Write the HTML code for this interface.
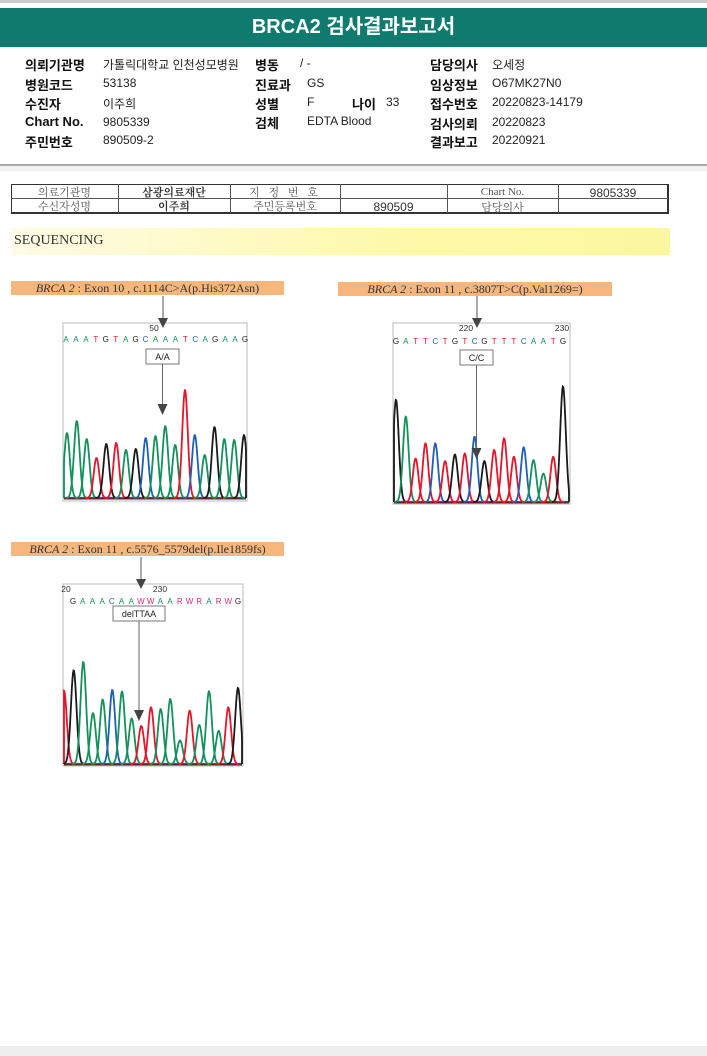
<!DOCTYPE html>
<html><head><meta charset="utf-8">
<style>
body{margin:0;width:707px;height:1056px;position:relative;background:#fff;overflow:hidden;font-family:"Liberation Sans","Noto Sans CJK KR",sans-serif;}
.a{position:absolute;white-space:nowrap;}
.lb{font-weight:bold;font-size:13px;color:#111;}
.v{font-size:12px;color:#222;}
.tc{position:absolute;font-family:"Liberation Serif","Noto Serif CJK SC",serif;font-size:11px;color:#555;text-align:center;}
.tag{position:absolute;background:#f6b67c;font-family:"Liberation Serif",serif;font-size:12px;color:#333;text-align:center;line-height:14px;}
</style></head><body>
<div class="a" style="left:0;top:0;width:707px;height:3px;background:#ccc"></div>
<div class="a" style="left:0;top:8px;width:707px;height:39px;background:#0f7b6e;color:#fff;font-weight:bold;font-size:20px;text-align:center;line-height:39px">BRCA2 검사결과보고서</div>

<div class="a lb" style="left:25px;top:55px">의뢰기관명</div>
<div class="a v" style="left:103px;top:56px">가톨릭대학교 인천성모병원</div>
<div class="a lb" style="left:255px;top:55px">병동</div>
<div class="a v" style="left:300px;top:56px">/ -</div>
<div class="a lb" style="left:430px;top:55px">담당의사</div>
<div class="a v" style="left:492px;top:56px">오세정</div>

<div class="a lb" style="left:25px;top:75px">병원코드</div>
<div class="a v" style="left:103px;top:76px">53138</div>
<div class="a lb" style="left:255px;top:75px">진료과</div>
<div class="a v" style="left:307px;top:76px">GS</div>
<div class="a lb" style="left:430px;top:75px">임상정보</div>
<div class="a v" style="left:492px;top:76px">O67MK27N0</div>

<div class="a lb" style="left:25px;top:94px">수진자</div>
<div class="a v" style="left:103px;top:95px">이주희</div>
<div class="a lb" style="left:255px;top:94px">성별</div>
<div class="a v" style="left:307px;top:95px">F</div>
<div class="a lb" style="left:352px;top:94px">나이</div>
<div class="a v" style="left:386px;top:95px">33</div>
<div class="a lb" style="left:430px;top:94px">접수번호</div>
<div class="a v" style="left:492px;top:95px">20220823-14179</div>

<div class="a lb" style="left:25px;top:114px">Chart No.</div>
<div class="a v" style="left:103px;top:115px">9805339</div>
<div class="a lb" style="left:255px;top:113px">검체</div>
<div class="a v" style="left:307px;top:114px">EDTA Blood</div>
<div class="a lb" style="left:430px;top:114px">검사의뢰</div>
<div class="a v" style="left:492px;top:115px">20220823</div>

<div class="a lb" style="left:25px;top:132px">주민번호</div>
<div class="a v" style="left:103px;top:133px">890509-2</div>
<div class="a lb" style="left:430px;top:132px">결과보고</div>
<div class="a v" style="left:492px;top:133px">20220921</div>

<div class="a" style="left:0;top:164px;width:707px;height:2px;background:#aaa"></div>
<div class="a" style="left:0;top:166px;width:707px;height:5px;background:#f2f2f2"></div>

<div class="a" style="left:11px;top:184px;width:655px;height:27px;border:1.5px solid #333;border-right-width:2px;border-bottom-width:2px"></div>
<div class="a" style="left:11px;top:198px;width:436px;height:1px;background:#555"></div>
<div class="a" style="left:447px;top:198px;width:221px;height:1px;background:#555"></div>
<div class="a" style="left:118px;top:184px;width:1px;height:29px;background:#555"></div>
<div class="a" style="left:230px;top:184px;width:1px;height:29px;background:#555"></div>
<div class="a" style="left:340px;top:184px;width:1px;height:29px;background:#555"></div>
<div class="a" style="left:447px;top:184px;width:1px;height:29px;background:#555"></div>
<div class="a" style="left:558px;top:184px;width:1px;height:29px;background:#555"></div>
<div class="tc" style="left:11px;top:184px;width:107px">의료기관명</div>
<div class="tc" style="left:118px;top:184px;width:112px;font-weight:bold;color:#333">삼광의료재단</div>
<div class="tc" style="left:230px;top:184px;width:110px;letter-spacing:3px">지 정 번 호</div>
<div class="tc" style="left:447px;top:186px;width:111px">Chart No.</div>
<div class="tc" style="left:558px;top:186px;width:110px;color:#333;font-size:12px;font-family:'Liberation Sans',sans-serif">9805339</div>
<div class="tc" style="left:11px;top:198px;width:107px">수신자성명</div>
<div class="tc" style="left:118px;top:198px;width:112px;font-weight:bold;color:#333">이주희</div>
<div class="tc" style="left:230px;top:198px;width:110px">주민등록번호</div>
<div class="tc" style="left:340px;top:200px;width:107px;color:#333;font-size:12px;font-family:'Liberation Sans',sans-serif">890509</div>
<div class="tc" style="left:447px;top:199px;width:111px">담당의사</div>

<div class="a" style="left:11px;top:228px;width:656px;height:27px;background:linear-gradient(90deg,#fffbe6 0%,#fdf9a8 60%,#fbf7a0 100%);font-family:'Liberation Serif',serif;font-size:14px;color:#333;line-height:25px;padding-left:3px">SEQUENCING</div>

<div class="tag" style="left:11px;top:281px;width:273px"><i>BRCA 2</i> : Exon 10 , c.1114C&gt;A(p.His372Asn)</div>
<div class="tag" style="left:338px;top:282px;width:274px"><i>BRCA 2</i> : Exon 11 , c.3807T&gt;C(p.Val1269=)</div>
<div class="tag" style="left:11px;top:542px;width:273px"><i>BRCA 2</i> : Exon 11 , c.5576_5579del(p.Ile1859fs)</div>

<div class="a" style="left:0;top:1046px;width:707px;height:10px;background:#eee"></div>

<svg id="chroma" width="707" height="1056" style="position:absolute;left:0;top:0"></svg>

<script>
// Panel 1 : c.1114C>A
const p1Colors = ["A","A","A","T","G","T","A","G","C","A","A","A","T","C","A","G","A","A","G"];
const p1Heights = [650,770,590,400,540,550,480,490,600,620,720,530,1080,630,430,710,590,580,630];
const p1Seq = "AAATGTAGCAAATCAGAAG";
// Panel 2 : c.3807T>C
const p2Colors = ["G","A","T","T","C","T","G","T","C","G","T","T","T","C","A","A","T","G"];
const p2Heights = [1017,850,433,583,583,407,473,483,650,407,517,633,450,543,417,283,450,1150];
const p2Seq = "GATTCTGTCGTTTCAATG";
// Panel 3 : c.5576_5579del
const p3Colors = ["T","G","A","A","A","C","A","A","T","T","A","A","A","T","A","A","A","T","G"];
const p3Heights = [727,927,1010,503,637,733,717,450,377,560,543,643,233,527,387,720,327,560,753];
const p3Seq = "GAAACAAWWAARWRARWG";

const NS="http://www.w3.org/2000/svg";
const svg=document.getElementById('chroma');
const COL={A:"#14915a",T:"#e3162b",G:"#1a1a1a",C:"#1e5fb4",W:"#d8257a",R:"#d8257a"};
function mk(t,attrs){const e=document.createElementNS(NS,t);for(const k in attrs)e.setAttribute(k,attrs[k]);svg.appendChild(e);return e;}

function panel(cfg,colors,heights,seq){
  const box=mk('rect',{x:cfg.x0,y:cfg.y0,width:cfg.x1-cfg.x0,height:cfg.y1-cfg.y0,fill:'#fff',stroke:'#bbb','stroke-width':1});
  
  
  const xs=i=>cfg.px0+i*(cfg.px1-cfg.px0)/(heights.length-1);
  const ys=v=>cfg.base-v/cfg.ymax*(cfg.base-cfg.y0);
  ["A","T","G","C"].forEach((b,k)=>{
    const l=mk('line',{x1:cfg.x0+1,x2:cfg.x1-1,y1:cfg.base+1-k*0.5,y2:cfg.base+1-k*0.5,stroke:COL[b],'stroke-width':1.2});
    
    
  });
  heights.forEach((h,i)=>{
    const c=xs(i),s=2.8;let d='';
    for(let dx=-4*s;dx<=4*s;dx+=0.5){
      const x=Math.max(cfg.x0+1,Math.min(cfg.x1-1,c+dx));
      const y=cfg.base-(cfg.base-ys(h))*Math.exp(-dx*dx/(2*s*s));
      d+=(d?'L':'M')+x.toFixed(1)+' '+y.toFixed(1);
    }
    const p=mk('path',{d:d,fill:'none',stroke:COL[colors[i]],'stroke-width':1.8});
    
    
  });
  [...seq].forEach((ch,i)=>{
    const t=mk('text',{x:cfg.sx0+i*(cfg.sx1-cfg.sx0)/(seq.length-1),y:cfg.sy,fill:COL[ch],'font-size':8,'text-anchor':'middle','font-family':'Liberation Sans, sans-serif'});
    t.textContent=ch;
    
    
  });
  cfg.nums.forEach(n=>{
    const t=mk('text',{x:n[0],y:cfg.y0+8,fill:'#333','font-size':8.5,'text-anchor':'middle','font-family':'Liberation Sans, sans-serif'});
    t.textContent=n[1];
    
    
  });
  const a1=mk('line',{x1:cfg.ax,x2:cfg.ax,y1:cfg.y0-27,y2:cfg.y0-2,stroke:'#555','stroke-width':1});
  
  
  const h1=mk('path',{d:`M${cfg.ax-5} ${cfg.y0-5}L${cfg.ax+5} ${cfg.y0-5}L${cfg.ax} ${cfg.y0+5}Z`,fill:'#444'});
  
  
  const gb=mk('rect',{x:cfg.gx,y:cfg.gy,width:cfg.gw,height:15,fill:'#fff',stroke:'#777','stroke-width':1});
  
  
  const gt=mk('text',{x:cfg.gx+cfg.gw/2,y:cfg.gy+11,fill:'#222','font-size':9,'text-anchor':'middle','font-family':'Liberation Sans, sans-serif'});
  gt.textContent=cfg.gt;
  
  
  const cx=cfg.gx+cfg.gw/2;
  const l2=mk('line',{x1:cx,x2:cx,y1:cfg.gy+15,y2:cfg.ay,stroke:'#666','stroke-width':1});
  
  
  const h2=mk('path',{d:`M${cx-5} ${cfg.ay-2}L${cx+5} ${cfg.ay-2}L${cx} ${cfg.ay+9}Z`,fill:'#444'});
  
  
}
panel({x0:63,x1:247,y0:323,y1:501,base:498,ymax:1750,px0:67,px1:244,sx0:66,sx1:245,sy:342,nums:[[154,'50']],ax:163,gx:146,gy:349,gw:33,gt:'A/A',ay:406},p1Colors,p1Heights,p1Seq);
panel({x0:393,x1:570,y0:323,y1:504,base:502,ymax:1780,px0:396,px1:563,sx0:396,sx1:563,sy:344,nums:[[466,'220'],[562,'230']],ax:477,gx:460,gy:350,gw:33,gt:'C/C',ay:450},p2Colors,p2Heights,p2Seq);
panel({x0:63,x1:243,y0:584,y1:766,base:764,ymax:1780,px0:64,px1:238,sx0:73,sx1:238,sy:604,nums:[[66,'20'],[160,'230']],ax:141,gx:113,gy:606,gw:52,gt:'delTTAA',ay:712},p3Colors,p3Heights,p3Seq);
</script>
</body></html>
